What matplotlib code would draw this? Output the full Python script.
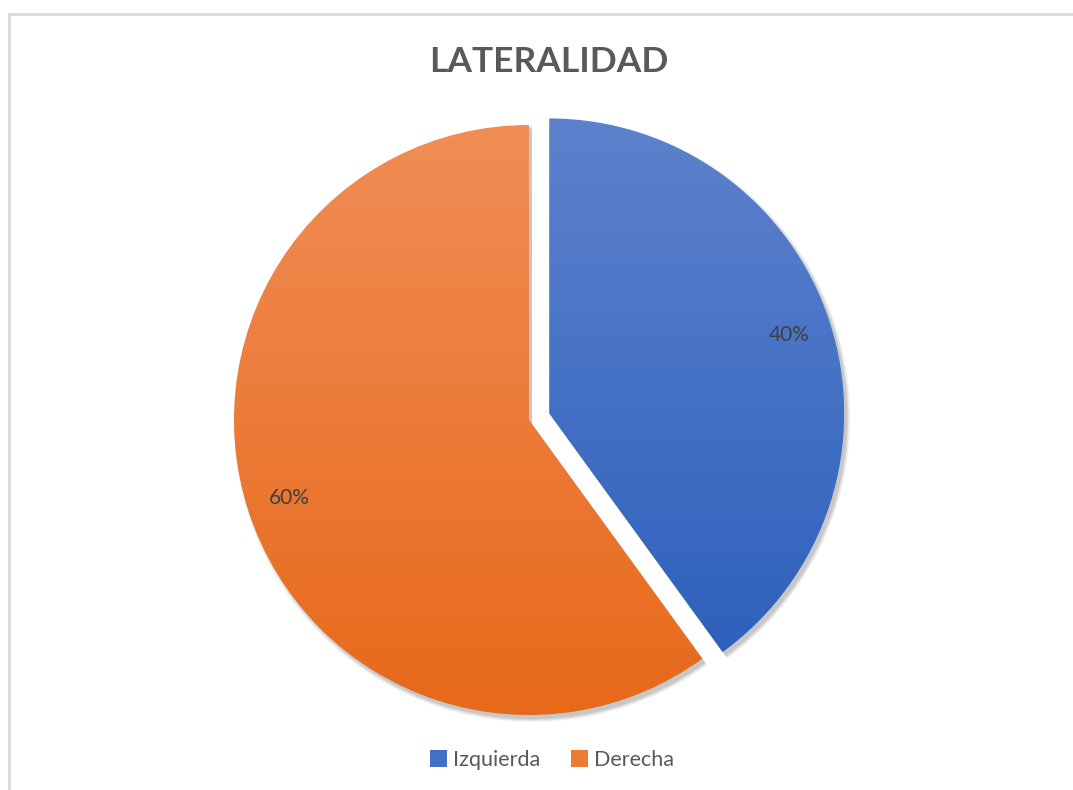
import matplotlib
matplotlib.use('Agg')
import matplotlib.pyplot as plt
import numpy as np
from matplotlib.colors import LinearSegmentedColormap
from matplotlib.patches import Patch, Rectangle, Wedge

plt.rcParams['font.family'] = ['Lato', 'DejaVu Sans']

labels = ['Izquierda', 'Derecha']
values = [40, 60]
explode_frac = [0.072, 0.0]
# top / bottom colour of each slice's gradient
grad_top = ['#5d82cd', '#f18d56']
grad_bottom = ['#2e61bc', '#e7691a']
legend_colors = ['#4470c4', '#ec7b34']

W, H = 1073, 790
fig = plt.figure(figsize=(W / 100, H / 100), dpi=100)
ax = fig.add_axes([0, 0, 1, 1])

center = (529, 370)
radius = 295
# pie() offsets exploded wedges in data units, not radius fractions
explode = [e * radius for e in explode_frac]

wedges, texts, autotexts = ax.pie(
    values, explode=explode, startangle=90, counterclock=False,
    center=center, radius=radius, autopct='%1.0f%%', pctdistance=0.855,
    textprops={'fontsize': 15, 'color': '#404040'},
    wedgeprops={'linewidth': 0})

ax.set_xlim(0, W)
ax.set_ylim(0, H)
ax.set_aspect('equal')
ax.axis('off')

grad = np.linspace(0, 1, 256).reshape(-1, 1)
for i, w in enumerate(wedges):
    # soft drop shadow under the slice
    for k, a in enumerate([0.05, 0.05, 0.06, 0.07]):
        sh = Wedge((w.center[0] + 3, w.center[1] - 4), w.r + 3 - k,
                   w.theta1, w.theta2, facecolor='black', alpha=a,
                   linewidth=0, zorder=0.5)
        ax.add_patch(sh)
    w.set_facecolor('none')
    w.set_zorder(1)
    x0, y0, x1, y1 = w.get_window_extent().extents
    inv = ax.transData.inverted()
    (dx0, dy0), (dx1, dy1) = inv.transform([(x0, y0), (x1, y1)])
    cmap = LinearSegmentedColormap.from_list('g%d' % i, [grad_top[i], grad_bottom[i]])
    im = ax.imshow(grad, cmap=cmap, extent=(dx0, dx1, dy0, dy1), aspect='auto',
                   origin='upper', zorder=1, interpolation='bilinear')
    im.set_clip_path(w)

ax.set_xlim(0, W)
ax.set_ylim(0, H)

for t in autotexts:
    t.set_zorder(3)

fig.text(549 / W, 1 - 62 / H, 'LATERALIDAD', ha='center', va='center',
         fontsize=25.5, fontweight='bold', color='#595959')

handles = [Patch(facecolor=c, edgecolor='none') for c in legend_colors]
fig.legend(handles, labels, loc='center', bbox_to_anchor=(552 / W, 1 - 760 / H),
           ncol=2, frameon=False, fontsize=15.5, handlelength=0.8,
           handleheight=0.8, handletextpad=0.3, columnspacing=1.4,
           labelcolor='#595959')

# chart area border
fig.add_artist(Rectangle((9 / W, -0.5), 2, 0.5 + (H - 14) / H,
                         transform=fig.transFigure, fill=False,
                         edgecolor='#d9d9d9', linewidth=2))

fig.savefig('out.png', dpi=100)
